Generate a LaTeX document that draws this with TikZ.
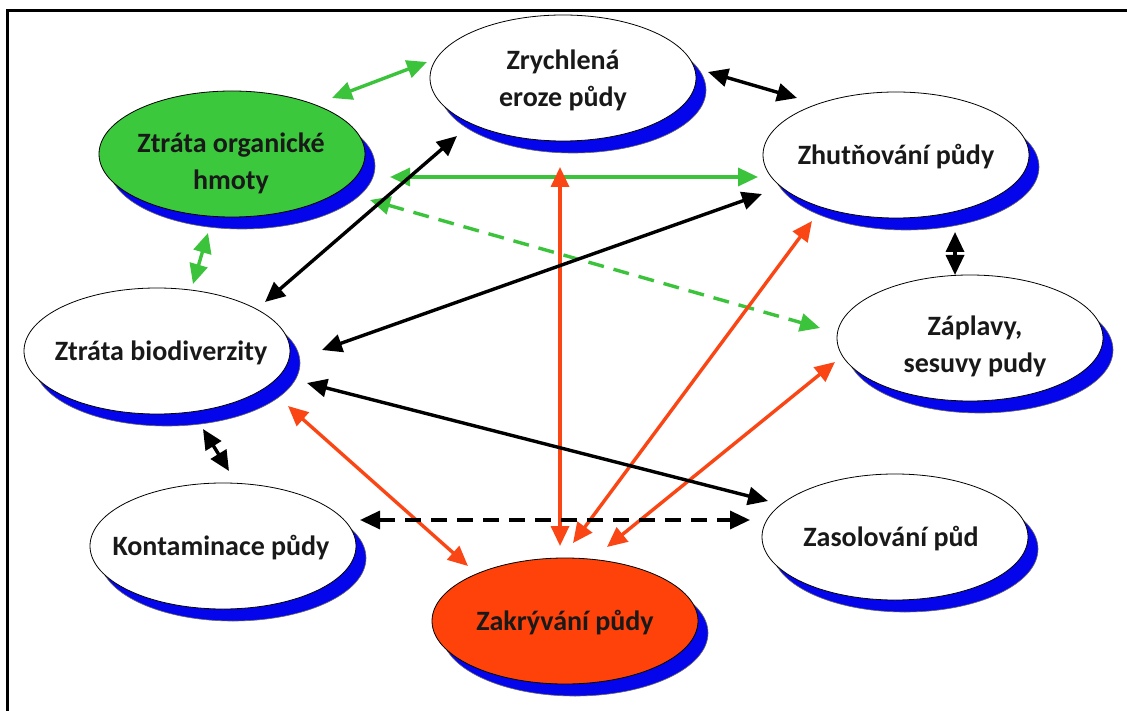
\documentclass[tikz,border=0pt]{standalone}
\usepackage{fontspec}
\setmainfont{Carlito}
\usetikzlibrary{arrows.meta,shadows,shapes.geometric}

\definecolor{shadowblue}{RGB}{5,5,235}
\definecolor{topicgreen}{RGB}{60,200,60}
\definecolor{linkgreen}{RGB}{60,195,60}
\definecolor{linkred}{RGB}{250,70,20}
\definecolor{topicred}{RGB}{255,65,10}

\tikzset{
  topic/.style={ellipse, draw=black, line width=0.8pt, fill=white,
    minimum width=266pt, minimum height=126pt, inner sep=0pt,
    drop shadow={shadow xshift=10pt, shadow yshift=-12pt, fill=shadowblue,
      opacity=1, draw=black!60, line width=0.6pt}},
  topictext/.style={align=center, inner sep=0pt,
    font=\fontsize{28}{37}\selectfont\bfseries, text=black!90},
  link/.style={line width=3.4pt, {Triangle[length=20pt,width=18pt]}-{Triangle[length=20pt,width=18pt]}},
  blacklink/.style={link, draw=black},
  greenlink/.style={link, draw=linkgreen},
  redlink/.style={link, draw=linkred},
  dashlink/.style={dash pattern=on 16pt off 10pt}
}

\begin{document}
\begin{tikzpicture}[x=1pt, y=-1pt]
  \useasboundingbox (0,0) rectangle (1127,711);
  \fill[white] (0,0) rectangle (1127,711);
  % frame around the scheme
  \draw[line width=3pt] (7.5,711) -- (7.5,11) -- (1127,11);

  % soil threats: ellipses
  \node[topic, fill=topicgreen] (org) at (232,154) {};
  \node[topic] (ero) at (563,78) {};
  \node[topic] (zhu) at (896,155) {};
  \node[topic] (zap) at (970,338) {};
  \node[topic] (bio) at (157,351) {};
  \node[topic] (kon) at (223,546) {};
  \node[topic, fill=topicred] (zak) at (565,621) {};
  \node[topic] (zas) at (895,537) {};

  % soil threats: names
  \node[topictext] (orgt) at ([shift={(-1,9)}]org.center) {Ztráta organické\\hmoty};
  \node[topictext] (erot) at ([shift={(0,2)}]ero.center) {Zrychlená\\eroze půdy};
  \node[topictext] (zhut) at ([shift={(0,2)}]zhu.center) {Zhutňování půdy};
  \node[topictext] (zapt) at ([shift={(5,8)}]zap.center) {Záplavy,\\sesuvy pudy};
  \node[topictext] (biot) at ([shift={(4,2)}]bio.center) {Ztráta biodiverzity};
  \node[topictext] (kont) at ([shift={(-2,2)}]kon.center) {Kontaminace půdy};
  \node[topictext] (zakt) at ([shift={(0,2)}]zak.center) {Zakrývání půdy};
  \node[topictext] (zast) at ([shift={(-4,2)}]zas.center) {Zasolování půd};

  % organic matter links
  \draw[greenlink] ([shift={(100,-56)}]org.center) -- ([shift={(-136,-16)}]ero.center);
  \draw[greenlink] ([shift={(158,23)}]org.center) -- ([shift={(-138,22)}]zhu.center);
  \draw[greenlink, dashlink] ([shift={(138,46)}]org.center) -- ([shift={(-150,-10)}]zap.center);
  \draw[greenlink] ([shift={(-24,79)}]org.center) -- ([shift={(36,-67)}]bio.center);

  % sealing links
  \draw[redlink] ([shift={(-3,89)}]ero.center) -- ([shift={(-5,-75)}]zak.center);
  \draw[redlink] ([shift={(8,-78)}]zak.center) -- ([shift={(-84,66)}]zhu.center);
  \draw[redlink] ([shift={(42,-74)}]zak.center) -- ([shift={(-135,24)}]zap.center);
  \draw[redlink] ([shift={(131,55)}]bio.center) -- ([shift={(-97,-55)}]zak.center);

  % other links
  \draw[blacklink] ([shift={(145,-6)}]ero.center) -- ([shift={(-99,-57)}]zhu.center);
  \draw[blacklink] ([shift={(59,77)}]zhu.center) -- ([shift={(-15,-63)}]zap.center);
  \draw[blacklink] ([shift={(108,-49)}]bio.center) -- ([shift={(-106,58)}]ero.center);
  \draw[blacklink] ([shift={(165,-1)}]bio.center) -- ([shift={(-134,39)}]zhu.center);
  \draw[blacklink] ([shift={(150,32)}]bio.center) -- ([shift={(-127,-36)}]zas.center);
  \draw[blacklink] ([shift={(46,78)}]bio.center) -- ([shift={(6,-75)}]kon.center);
  \draw[blacklink, dashlink] ([shift={(137,-26)}]kon.center) -- ([shift={(-145,-17)}]zas.center);
\end{tikzpicture}
\end{document}
